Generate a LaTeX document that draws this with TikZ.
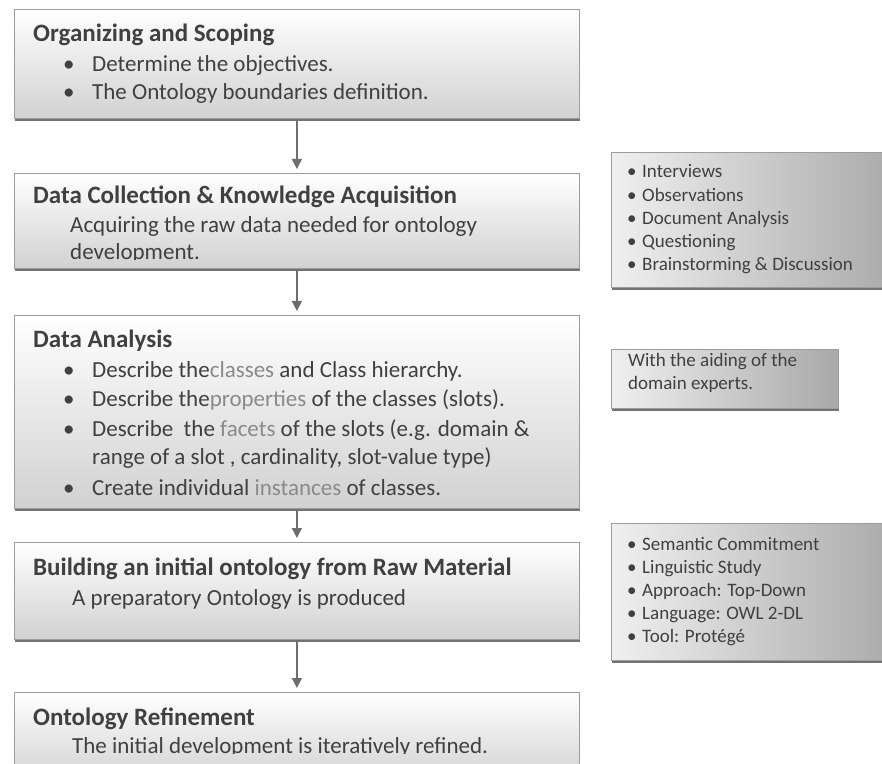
\documentclass[tikz,border=0pt]{standalone}
\usepackage{fontspec}
\setmainfont{Carlito}
\usepackage{tikz}
\usetikzlibrary{arrows.meta,shadows}

\definecolor{txt}{HTML}{404040}
\definecolor{hl}{HTML}{8A8A8A}
\definecolor{rim}{HTML}{9C9C9C}
\definecolor{arrowgray}{HTML}{6E6E6E}

\begin{document}
\begin{tikzpicture}[x=1pt,y=1pt]

		\tikzstyle{stage}=[draw=rim,line width=0.8pt,anchor=north west,inner sep=0pt,minimum width=565pt,top color=white,bottom color=black!18,drop shadow={shadow xshift=1pt,shadow yshift=-3pt,fill=black!55,opacity=1}]
		\tikzstyle{note}=[draw=rim,line width=0.8pt,anchor=north west,inner sep=0pt,left color=black!6,right color=black!34,drop shadow={shadow xshift=1pt,shadow yshift=-3pt,fill=black!55,opacity=1}]
		\tikzstyle{title}=[anchor=base west,inner sep=0pt,text=txt,font=\fontsize{25}{30}\selectfont\bfseries]
		\tikzstyle{body}=[anchor=base west,inner sep=0pt,text=txt,font=\fontsize{23}{28}\selectfont]
		\tikzstyle{small}=[anchor=base west,inner sep=0pt,text=txt,font=\fontsize{19}{23}\selectfont]
		\tikzstyle{flow}=[line width=1.4pt,draw=arrowgray,shorten >=4pt,-{Triangle[width=10pt,length=10pt]}]

		\useasboundingbox (0,0) rectangle (882,763);

		\node[stage,minimum height=109pt] (organize) at (14,754) {};
		\node[stage,minimum height=95pt] (collect) at (14,590) {};
		\node[stage,minimum height=193pt] (analysis) at (14,448) {};
		\node[stage,minimum height=97pt] (build) at (14,221) {};
		\node[stage,minimum height=90pt] (refine) at (14,71) {};

		\node[note,minimum width=290pt,minimum height=135pt] (techniques) at (611,611) {};
		\node[note,minimum width=227pt,minimum height=59pt] (experts) at (611,414) {};
		\node[note,minimum width=290pt,minimum height=137pt] (decisions) at (611,240) {};

		\draw[flow] (organize.south) -- (collect.north);
		\draw[flow] (collect.south) -- (analysis.north);
		\draw[flow] (analysis.south) -- (build.north);
		\draw[flow] (build.south) -- (refine.north);

		\node[title] (organize-t) at (33,721) {Organizing and Scoping};
		\foreach \txt [count=\i] in {Determine the objectives., The Ontology boundaries definition.}
			\node[body] (organize-\i) at (63,719-28*\i) {\makebox[29pt][l]{•}\txt};

		\node[title] (collect-t) at (33,559) {Data Collection \& Knowledge Acquisition};
		\node[body] (collect-a) at (70,530) {Acquiring the raw data needed for ontology};
		\begin{scope}
			\clip (14,503) rectangle (579,590);
			\node[body] (collect-b) at (70,503) {development.};
		\end{scope}

		\node[title] (analysis-t) at (33,415) {Data Analysis};
		\node[body] (analysis-1) at (63,385) {\makebox[29pt][l]{•}Describe the\textcolor{hl}{classes} and Class hierarchy.};
		\node[body] (analysis-2) at (63,356) {\makebox[29pt][l]{•}Describe the\textcolor{hl}{properties} of the classes (slots).};
		\node[body] (analysis-3) at (63,326) {\makebox[29pt][l]{•}Describe~ the \textcolor{hl}{facets} of the slots (e.g. domain \&};
		\node[body] (analysis-4) at (92,298) {range of a slot , cardinality, slot-value type)};
		\node[body] (analysis-5) at (63,268) {\makebox[29pt][l]{•}Create individual \textcolor{hl}{instances} of classes.};

		\node[title] (build-t) at (33,188) {Building an initial ontology from Raw Material};
		\node[body] (build-a) at (72,158) {A preparatory Ontology is produced};

		\node[title] (refine-t) at (33,38) {Ontology Refinement};
		\begin{scope}
			\clip (14,10) rectangle (579,71);
			\node[body] (refine-a) at (72,10) {The initial development is iteratively refined.};
		\end{scope}

		\foreach \txt [count=\i] in {Interviews, Observations, Document Analysis, Questioning, Brainstorming \& Discussion}
			\node[small] (techniques-\i) at (627,608.2-23.2*\i) {\makebox[15pt][l]{•}\txt};

		\node[small] (experts-a) at (628,396) {With the aiding of the};
		\node[small] (experts-b) at (628,373) {domain experts.};

		\foreach \txt [count=\i] in {Semantic Commitment, Linguistic Study, Approach: Top-Down, Language: OWL 2-DL, Tool: Protégé}
			\node[small] (decisions-\i) at (627,236.2-23.2*\i) {\makebox[15pt][l]{•}\txt};

\end{tikzpicture}
\end{document}
